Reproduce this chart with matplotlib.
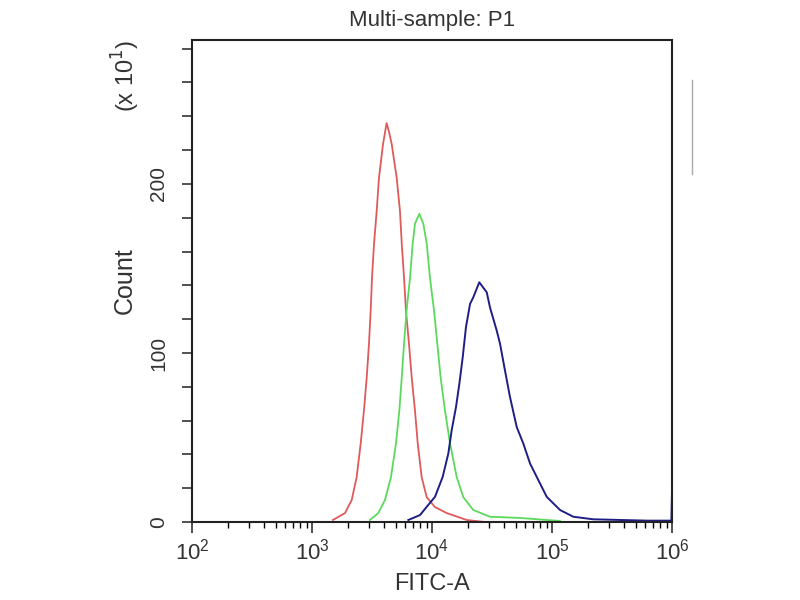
import matplotlib
matplotlib.use("Agg")
import matplotlib.pyplot as plt
import numpy as np
from matplotlib.lines import Line2D
from matplotlib.ticker import FixedLocator, LogLocator, NullFormatter

plt.rcParams["font.family"] = ["Liberation Sans", "DejaVu Sans"]

# FITC-A channel (log10 of intensity) and counts
red_logx = [3.175, 3.275, 3.331, 3.372, 3.406, 3.433, 3.456, 3.475, 3.489, 3.500,
            3.517, 3.539, 3.558, 3.592, 3.622, 3.642, 3.664, 3.706, 3.733, 3.748,
            3.767, 3.783, 3.808, 3.831, 3.858, 3.881, 3.914, 3.956, 4.025, 4.122,
            4.289, 4.440]
red_count = [1.2, 5.3, 13, 26.5, 46.6, 66, 85.5, 105.6, 125, 144.5,
             164.6, 184, 203.5, 223.6, 236, 230.7, 223.6, 203.5, 184, 164.6,
             144.5, 125, 105.6, 85.5, 66, 46.6, 26.5, 14.7, 8.8, 5.3,
             1.2, 0]

green_logx = [3.483, 3.553, 3.608, 3.658, 3.700, 3.728, 3.748, 3.767, 3.788, 3.817,
              3.839, 3.858, 3.894, 3.928, 3.956, 3.983, 4.017, 4.044, 4.072, 4.108,
              4.150, 4.206, 4.261, 4.344, 4.483, 4.733, 5.067]
green_count = [1.2, 5.3, 13, 26.5, 46.6, 66, 85.5, 105.6, 125, 144.5,
               164.6, 176.4, 182.3, 176.4, 164.6, 144.5, 125, 105.6, 85.5, 66,
               46.6, 26.5, 14.7, 7.1, 3.1, 2.4, 0.6]

blue_logx = [3.803, 3.900, 3.956, 4.025, 4.089, 4.136, 4.164, 4.200, 4.228, 4.256,
             4.283, 4.317, 4.344, 4.394, 4.456, 4.483, 4.539, 4.567, 4.608, 4.650,
             4.706, 4.761, 4.817, 4.886, 4.956, 5.067, 5.178, 5.344, 5.567, 5.800,
             5.995, 6.000]
blue_count = [1.2, 4.1, 9, 14.9, 26.7, 40.5, 54.3, 68, 81.8, 97.5,
              115.2, 129, 132.9, 141.8, 135.9, 127, 113.3, 105.4, 89.7, 73.9,
              56.2, 46.4, 34.6, 24.8, 14.9, 7.1, 3.1, 1.6, 1.2, 0.8,
              0.8, 18]

fig = plt.figure(figsize=(8, 6), dpi=100)
ax = fig.add_axes([0.24, 0.13, 0.60, 0.803])

ax.plot(10 ** np.array(red_logx), red_count, color="#e05a5a", lw=1.3)
ax.plot(10 ** np.array(green_logx), green_count, color="#5cd95c", lw=1.3)
ax.plot(10 ** np.array(blue_logx), blue_count, color="#1e1e86", lw=1.4)

ax.set_xscale("log")
ax.set_xlim(1e2, 1e6)
ax.set_ylim(0, 285)

ax.xaxis.set_major_locator(LogLocator(base=10, numticks=10))
ax.xaxis.set_minor_locator(LogLocator(base=10, subs=np.arange(2, 10), numticks=10))
ax.xaxis.set_minor_formatter(NullFormatter())
ax.set_yticks([0, 100, 200])
ax.yaxis.set_minor_locator(FixedLocator(np.arange(20, 300, 20)))

ax.tick_params(axis="x", which="major", direction="out", length=8, width=1.2,
               labelsize=16, colors="#333333", pad=4)
ax.tick_params(axis="x", which="minor", direction="out", length=4, width=1.0)
ax.tick_params(axis="y", which="both", direction="out", length=7, width=1.2,
               labelsize=15, colors="#333333", pad=10)
for lbl in ax.get_yticklabels():
    lbl.set_rotation(90)
    lbl.set_va("center")

for sp in ax.spines.values():
    sp.set_linewidth(1.5)
    sp.set_color("#222222")

ax.set_title("Multi-sample: P1", fontsize=16, color="#333333", pad=10)
ax.set_xlabel("FITC-A", fontsize=17, color="#333333", labelpad=6)
ax.set_ylabel("Count", fontsize=18, color="#333333", labelpad=9)
fig.text(0.157, 0.873, "(x 10$^{1}$)", rotation=90, fontsize=17, color="#333333",
         ha="center", va="center")

# faint leftover mark right of the plot
fig.add_artist(Line2D([0.865, 0.865], [0.867, 0.71], color="#aaaaaa", lw=1.0))

fig.savefig("out.png", dpi=100)
